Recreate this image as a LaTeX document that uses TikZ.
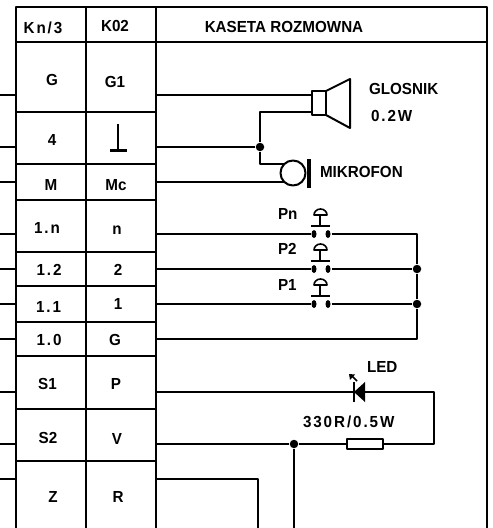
\documentclass[tikz,border=0pt]{standalone}
\usepackage{fontspec}
\setmainfont{Liberation Sans}[FakeStretch=0.95]
\tikzset{
	lbl/.style={inner sep=0pt,font=\fontsize{16}{16}\bfseries\selectfont},
	lblw/.style={inner sep=0pt,font=\fontsize{16}{16}\bfseries\selectfont\addfontfeature{LetterSpace=12}},
	dot/.style={circle,fill,inner sep=0pt,minimum size=8.5pt},
	contact/.style={ellipse,fill,inner sep=0pt,minimum width=5pt,minimum height=8pt},
}
\usetikzlibrary{shapes.geometric}
\begin{document}
\begin{tikzpicture}[x=1pt,y=-1pt,line join=round,line width=2pt]
	\useasboundingbox (0,0) rectangle (493,528);
	% table
	\draw (16,528)--(16,7)--(487,7)--(487,528);
	\draw (86,7)--(86,528);
	\draw (156,7)--(156,528);
	\draw (16,42)--(487,42);
	\foreach \y in {112,164,200,252,286,322,356,409,461}
		\draw (16,\y)--(156,\y);
	% wires on both sides of the table
	\foreach \n/\y in {a/95,b/147,c/182,d/234,e/269,f/304,g/339,h/392,i/444,j/479}{
		\coordinate (l\n) at (0,\y);
		\coordinate (t\n) at (16,\y);
		\coordinate (k\n) at (156,\y);
		\draw (l\n)--(t\n);
	}
	% table texts
	\node[lblw] (hKn) at (43,28) {Kn/3};
	\node[lbl] (hKo) at (115,26) {K02};
	\node[lbl] (hKas) at (284,27) {KASETA ROZMOWNA};
	\foreach \n/\x/\y/\t in {kG/52/80/G,kM/51/185/M,kF/52/140/4,kSa/47.5/384/S1,kSb/48/438/S2,kZ/53/497/Z,
		oGa/115/82/G1,oMc/116/185/Mc,on/117/230/n,otwo/118/270/2,oone/118/304/1,oG/115/340/G,oP/116/384/P,oV/117/439/V,oR/118/497/R}
		\node[lbl] (\n) at (\x,\y) {\t};
	\foreach \n/\x/\y/\t in {kn/47/228/1.n,ktwo/49/270/1.2,kone/48.5/307/1.1,kzero/49/340/1.0}
		\node[lblw] (\n) at (\x,\y) {\t};
	\draw (118,124)--(118,150);
	\draw[line width=3pt] (110,150)--(127,150);
	% speaker and microphone
	\coordinate (spka) at (312,95);
	\coordinate (spkb) at (312,112);
	\coordinate (mica) at (285,164);
	\coordinate (micb) at (285,182);
	\node[dot] (djoin) at (260,147) {};
	\draw (ka)--(spka);
	\draw (spkb)--(260,112)--(djoin)--(kb);
	\draw (djoin)--(260,164)--(mica);
	\draw (kc)--(micb);
	\draw (312,91) rectangle (326,115);
	\draw (326,91)--(350,79)--(350,128)--(326,115);
	\draw[fill=white] (293,173) circle (12.5);
	\draw[line width=3.5pt] (309,159)--(309,188);
	\node[lbl,anchor=west] (tGl) at (368,89) {GLOSNIK};
	\node[lblw,anchor=west] (tW) at (370,116) {0.2W};
	\node[lbl,anchor=west] (tMic) at (319,172) {MIKROFON};
	% push buttons
	\coordinate (rbus) at (417,234);
	\node[dot] (de) at (417,269) {};
	\node[dot] (df) at (417,304) {};
	\foreach \n/\y/\t in {d/234/Pn,e/269/P2,f/304/P1}{
		\node[contact] (ca\n) at (314,\y) {};
		\node[contact] (cb\n) at (328,\y) {};
		\draw (k\n)--(ca\n);
		\draw (320,\y-8)--(320,\y-19);
		\draw (311,\y-8)--(330,\y-8);
		\draw[line width=1.6pt] (314,\y-19) arc (180:360:6.5 and 6) -- cycle;
	}
	\node[lbl,anchor=west] (tPn) at (277,213.5) {Pn};
	\node[lbl,anchor=west] (tPb) at (277,248.5) {P2};
	\node[lbl,anchor=west] (tPa) at (277,285) {P1};
	\draw (cbd)--(rbus)--(de)--(df)--(417,339)--(kg);
	\draw (cbe)--(de);
	\draw (cbf)--(df);
	% led and resistor
	\coordinate (ledr) at (365,392);
	\coordinate (rcor) at (434,392);
	\coordinate (rcob) at (434,444);
	\node[draw,rectangle,inner sep=0pt,minimum width=36pt,minimum height=10.5pt] (res) at (365,444) {};
	\node[dot] (di) at (294,444) {};
	\draw (kh)--(ledr)--(rcor)--(rcob)--(res);
	\draw (ki)--(di)--(res);
	\draw (di)--(294,528);
	\draw[line width=2pt] (354,382)--(354,402);
	\fill (354,392)--(365,382)--(365,402)--cycle;
	\draw[line width=1.6pt] (357,381)--(352,376);
	\fill (349,374)--(355,374.5)--(350,380)--cycle;
	\node[lbl,anchor=west] (tLed) at (366,367) {LED};
	\node[lblw,anchor=west] (tRes) at (302,421.5) {330R/0.5W};
	\draw (kj)--(258,479)--(258,528);
\end{tikzpicture}
\end{document}
